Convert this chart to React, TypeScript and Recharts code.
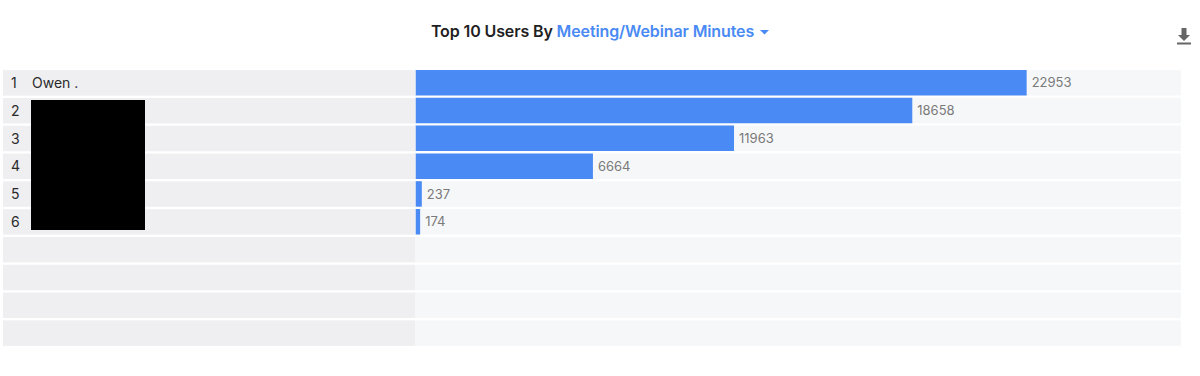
import React from 'react';
import { BarChart, Bar, XAxis, YAxis, LabelList } from 'recharts';

const ranks = ['1', '2', '3', '4', '5', '6', '', '', '', ''];
const names = ['Owen .', '', '', '', '', '', '', '', '', ''];
const minutes: (number | null)[] = [22953, 18658, 11963, 6664, 237, 174, null, null, null, null];

const data = ranks.map((r, i) => ({ key: `row${i}`, rank: r, name: names[i], value: minutes[i] }));

const FONT = 'Inter, "Noto Sans", sans-serif';
const ROW_H = 25.5;
const PLOT_LEFT = 415.5;
const PLOT_RIGHT = 1181;

const LeftTick = (props: any) => {
  const { y, index } = props;
  const r = ranks[index];
  const n = names[index];
  const empty = minutes[index] == null;
  return (
    <g>
      <rect x={3} y={y - ROW_H / 2} width={PLOT_LEFT - 3} height={ROW_H} fill="#efeff1" />
      {empty ? (
        <rect x={PLOT_LEFT} y={y - ROW_H / 2} width={PLOT_RIGHT - PLOT_LEFT} height={ROW_H} fill="#f6f7f9" />
      ) : null}
      {r ? (
        <text x={11} y={y} dy={5} fontSize={14} fill="#2a2a2a" fontFamily={FONT}>{r}</text>
      ) : null}
      {n ? (
        <text x={32} y={y} dy={5} fontSize={14} fill="#2a2a2a" fontFamily={FONT}>{n}</text>
      ) : null}
    </g>
  );
};

export default function App() {
  return (
    <div style={{ position: 'absolute', left: 0, top: 0, width: 1200, height: 376, background: '#fff', fontFamily: FONT }}>
      <div style={{ position: 'absolute', left: 0, top: 21, width: 1200, textAlign: 'center', fontSize: 16, fontWeight: 600, color: '#1f1f23', letterSpacing: -0.12 }}>
        <span>Top 10 Users By </span>
        <span style={{ color: '#4a8af4' }}>Meeting/Webinar Minutes</span>
        <svg width={9} height={6} style={{ marginLeft: 6, verticalAlign: 'middle' }}>
          <polygon points="0,0 9,0 4.5,4.5" fill="#4a8af4" />
        </svg>
      </div>
      <svg style={{ position: 'absolute', left: 1176, top: 27 }} width={16} height={18}>
        <rect x={5.5} y={1} width={5} height={7} fill="#666" />
        <polygon points="2,8 14,8 8,14" fill="#666" />
        <rect x={1} y={15.5} width={14} height={2} fill="#666" />
      </svg>
      <BarChart
        width={1200}
        height={376}
        data={data}
        layout="vertical"
        margin={{ top: 69, right: 19, bottom: 29, left: 3 }}
        barSize={ROW_H}
      >
        <XAxis type="number" hide domain={[0, 28750]} />
        <YAxis
          type="category"
          dataKey="key"
          width={412.5}
          axisLine={false}
          tickLine={false}
          interval={0}
          tick={<LeftTick />}
        />
        <Bar dataKey="value" fill="#4a8af4" background={{ fill: '#f6f7f9' }} isAnimationActive={false}>
          <LabelList
            dataKey="value"
            position="right"
            offset={5}
            fill="#7a7a7a"
            fontSize={13}
            fontFamily={FONT}
            formatter={(v: any) => (v ? v : '')}
          />
        </Bar>
      </BarChart>
      <div style={{ position: 'absolute', left: 31, top: 100, width: 114, height: 130, background: '#000' }} />
    </div>
  );
}
